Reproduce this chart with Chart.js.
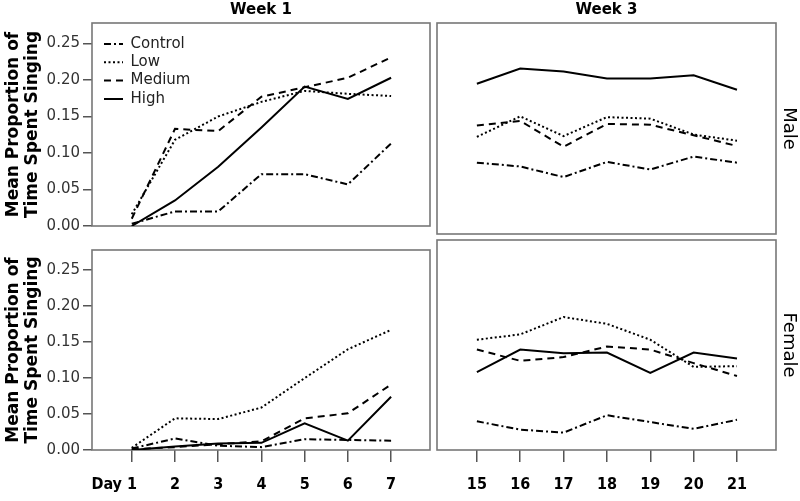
<!DOCTYPE html>
<html>
<head>
<meta charset="utf-8">
<script src="https://cdn.jsdelivr.net/npm/chart.js@4.4.1/dist/chart.umd.min.js"></script>
<style>
html,body{margin:0;padding:0;background:#fff;width:800px;height:501px;overflow:hidden;}
canvas{position:absolute;}
</style>
</head>
<body>
<canvas id="tl" width="432" height="238" style="left:0px;top:0px"></canvas>
<canvas id="tr" width="368" height="238" style="left:432px;top:0px"></canvas>
<canvas id="bl" width="432" height="263" style="left:0px;top:238px"></canvas>
<canvas id="br" width="368" height="263" style="left:432px;top:238px"></canvas>
<script>
// ---------- data ----------
const seriesNames = ['Control', 'Low', 'Medium', 'High'];
const week1Days = [1, 2, 3, 4, 5, 6, 7];
const week3Days = [15, 16, 17, 18, 19, 20, 21];
const week1TickLabels = ['Day 1\u00a0\u00a0\u00a0\u00a0\u00a0\u00a0\u00a0', '2', '3', '4', '5', '6', '7'];
const week3TickLabels = ['15', '16', '17', '18', '19', '20', '21'];
const yTicks = [0, 0.05, 0.10, 0.15, 0.20, 0.25];
const yTickLabels = ['0.00', '0.05', '0.10', '0.15', '0.20', '0.25'];
const columnTitles = ['Week 1', 'Week 3'];
const rowTitles = ['Male', 'Female'];
const yAxisTitle = ['Mean Proportion of', 'Time Spent Singing'];

// Male, week 1
const maleW1Control = [0.003, 0.020, 0.020, 0.071, 0.071, 0.057, 0.113];
const maleW1Low     = [0.016, 0.118, 0.150, 0.170, 0.185, 0.181, 0.178];
const maleW1Medium  = [0.010, 0.133, 0.130, 0.177, 0.190, 0.203, 0.231];
const maleW1High    = [0.000, 0.035, 0.081, 0.135, 0.191, 0.174, 0.203];
// Male, week 3
const maleW3Control = [0.094, 0.089, 0.075, 0.095, 0.085, 0.102, 0.094];
const maleW3Low     = [0.128, 0.155, 0.129, 0.154, 0.152, 0.131, 0.123];
const maleW3Medium  = [0.143, 0.149, 0.115, 0.145, 0.144, 0.130, 0.116];
const maleW3High    = [0.198, 0.218, 0.214, 0.205, 0.205, 0.209, 0.190];
// Female, week 1
const femaleW1Control = [0.002, 0.016, 0.006, 0.004, 0.015, 0.014, 0.013];
const femaleW1Low     = [0.003, 0.044, 0.043, 0.059, 0.100, 0.140, 0.167];
const femaleW1Medium  = [0.001, 0.004, 0.008, 0.012, 0.044, 0.051, 0.091];
const femaleW1High    = [0.000, 0.005, 0.009, 0.010, 0.037, 0.013, 0.074];
// Female, week 3
const femaleW3Control = [0.038, 0.027, 0.023, 0.046, 0.037, 0.028, 0.040];
const femaleW3Low     = [0.146, 0.153, 0.176, 0.167, 0.146, 0.110, 0.111];
const femaleW3Medium  = [0.133, 0.118, 0.123, 0.137, 0.133, 0.115, 0.098];
const femaleW3High    = [0.103, 0.133, 0.128, 0.129, 0.102, 0.129, 0.121];

// ---------- styles ----------
const dashes = [[7, 3, 2, 3], [2, 2.5], [7, 5], []];
const Y_MAX = 0.278;
const TICK_FONT = {family: 'DejaVu Sans', size: 15};
const XTICK_FONT = {family: "'DejaVu Sans Condensed', 'DejaVu Sans', sans-serif", size: 16, weight: 'bold'};

function buildDatasets(xs, series) {
  return seriesNames.map((name, k) => ({
    label: name,
    data: xs.map((x, i) => ({x: x, y: series[k][i]})),
    borderColor: '#000',
    backgroundColor: '#000',
    borderWidth: 2,
    borderDash: dashes[k],
    pointRadius: 0,
    tension: 0,
    fill: false
  }));
}

const framePlugin = {
  id: 'frame',
  beforeDatasetsDraw(chart) {
    const a = chart.chartArea, ctx = chart.ctx;
    ctx.save();
    ctx.strokeStyle = '#777';
    ctx.lineWidth = 1.6;
    ctx.setLineDash([]);
    ctx.strokeRect(a.left, a.top, a.right - a.left, a.bottom - a.top);
    ctx.restore();
  }
};

const legendPlace = {
  id: 'legendPlace',
  afterLayout(chart) {
    const l = chart.legend;
    if (!l || !l.options.display) return;
    const a = chart.chartArea;
    const w = l.width, h = l.height;
    l.left = a.left + 8.7; l.top = a.top + 10.2;
    l.right = l.left + w; l.bottom = l.top + h;
  }
};

function yAxis(showLabels) {
  if (!showLabels) return {type: 'linear', display: false, min: 0, max: Y_MAX};
  return {
    type: 'linear', position: 'left', min: 0, max: Y_MAX,
    afterBuildTicks(s) { s.ticks = yTicks.map(v => ({value: v})); },
    ticks: {callback: (v, i) => yTickLabels[i], font: TICK_FONT, color: '#333', padding: 3},
    grid: {drawOnChartArea: false, drawTicks: true, tickLength: 9, color: '#555', lineWidth: 1.5},
    border: {display: false},
    title: {display: true, text: yAxisTitle, color: '#000',
            font: {family: 'DejaVu Sans', size: 17, weight: 'bold', lineHeight: 1.12},
            padding: {top: 4.5, bottom: 0}},
    afterFit(s) { s.width = 92; }
  };
}

function xAxisTop(min, max, title) {
  return {
    type: 'linear', position: 'top', min: min, max: max,
    grid: {display: false}, border: {display: false}, ticks: {display: false},
    title: {display: true, text: title, color: '#000',
            font: {family: 'DejaVu Sans', size: 15, weight: 'bold', lineHeight: 1.2},
            padding: {top: 1, bottom: 0}},
    afterFit(s) { s.height = 23; }
  };
}

function xAxisBottom(min, max, vals, labels) {
  return {
    type: 'linear', position: 'bottom', min: min, max: max,
    afterBuildTicks(s) { s.ticks = vals.map(v => ({value: v})); },
    ticks: {callback: (v, i) => labels[i], font: XTICK_FONT, color: '#000', padding: 13,
            maxRotation: 0, minRotation: 0, autoSkip: false},
    grid: {drawOnChartArea: false, drawTicks: true, tickLength: 12, color: '#555', lineWidth: 1.5},
    border: {display: false},
    afterFit(s) { s.height = 51; }
  };
}

function rowAxis(text) {
  return {
    type: 'linear', position: 'right', display: true,
    grid: {display: false}, border: {display: false}, ticks: {display: false},
    title: {display: true, text: text, color: '#000',
            font: {family: 'DejaVu Sans', size: 18, lineHeight: 1.2},
            padding: {top: 1, bottom: 0}},
    afterFit(s) { s.width = 24; }
  };
}

function legendLabels(chart) {
  const items = Chart.defaults.plugins.legend.labels.generateLabels(chart);
  return items.map(item => {
    const ds = chart.data.datasets[item.datasetIndex];
    item.lineDash = ds.borderDash;
    item.lineWidth = ds.borderWidth;
    item.strokeStyle = ds.borderColor;
    item.pointStyle = 'line';
    return item;
  });
}

const commonPlugins = (legend) => ({
  legend: legend ? {
    display: true, position: 'chartArea', align: 'start',
    labels: {usePointStyle: true, pointStyle: 'line', pointStyleWidth: 19,
             generateLabels: legendLabels,
             font: {family: 'DejaVu Sans', size: 15}, color: '#222', padding: 3.3}
  } : {display: false},
  tooltip: {enabled: false},
  title: {display: false}
});

// Top-left: Male, week 1
new Chart(document.getElementById('tl'), {
  type: 'line',
  data: {datasets: buildDatasets(week1Days, [maleW1Control, maleW1Low, maleW1Medium, maleW1High])},
  options: {
    responsive: false, animation: false, events: [],
    layout: {padding: {left: 0, top: 0, right: 2, bottom: 4}},
    scales: {x: xAxisTop(0.08, 7.9, columnTitles[0]), y: yAxis(true)},
    plugins: commonPlugins(true)
  },
  plugins: [framePlugin, legendPlace]
});

// Top-right: Male, week 3
new Chart(document.getElementById('tr'), {
  type: 'line',
  data: {datasets: buildDatasets(week3Days, [maleW3Control, maleW3Low, maleW3Medium, maleW3High])},
  options: {
    responsive: false, animation: false, events: [],
    layout: {padding: {left: 5, top: 0, right: 0, bottom: 4}},
    scales: {x: xAxisTop(14.08, 21.9, columnTitles[1]), y: yAxis(false), y2: rowAxis(rowTitles[0])},
    plugins: commonPlugins(false)
  },
  plugins: [framePlugin]
});

// Bottom-left: Female, week 1
new Chart(document.getElementById('bl'), {
  type: 'line',
  data: {datasets: buildDatasets(week1Days, [femaleW1Control, femaleW1Low, femaleW1Medium, femaleW1High])},
  options: {
    responsive: false, animation: false, events: [],
    layout: {padding: {left: 0, top: 2, right: 2, bottom: 0}},
    scales: {x: xAxisBottom(0.08, 7.9, week1Days, week1TickLabels), y: yAxis(true)},
    plugins: commonPlugins(false)
  },
  plugins: [framePlugin]
});

// Bottom-right: Female, week 3
new Chart(document.getElementById('br'), {
  type: 'line',
  data: {datasets: buildDatasets(week3Days, [femaleW3Control, femaleW3Low, femaleW3Medium, femaleW3High])},
  options: {
    responsive: false, animation: false, events: [],
    layout: {padding: {left: 5, top: 2, right: 0, bottom: 0}},
    scales: {x: xAxisBottom(14.08, 21.9, week3Days, week3TickLabels), y: yAxis(false), y2: rowAxis(rowTitles[1])},
    plugins: commonPlugins(false)
  },
  plugins: [framePlugin]
});
</script>
</body>
</html>
